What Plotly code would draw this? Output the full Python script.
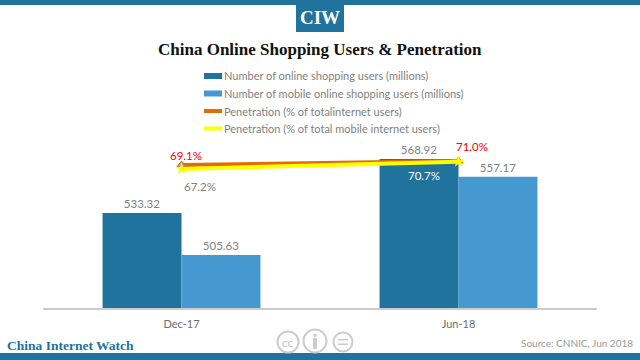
import plotly.graph_objects as go

categories = ["Dec-17", "Jun-18"]
online_users = [533.32, 568.92]
mobile_users = [505.63, 557.17]
penetration_total = [69.1, 71.0]
penetration_mobile = [67.2, 70.7]

names = ["Number of online shopping users (millions)",
         "Number of mobile online shopping users (millions)",
         "Penetration (% of totalinternet users)",
         "Penetration (% of total mobile internet users)"]

DARK = "#20739c"
LIGHT = "#4599d0"
ORANGE = "#e36c0a"
YELLOW = "#ffff00"
GRAY = "#7f7f7f"
W, H = 640, 360
L, R, T, B = 43, 597, 101, 308
FONT = "Lato"
SERIF = "Liberation Serif"

def px(x): return (x - L) / (R - L)
def py(y): return (B - y) / (B - T)

fig = go.Figure()
fig.add_bar(x=categories, y=online_users, name=names[0], marker=dict(color=DARK, line=dict(width=0)),
            text=[f"{v:.2f}" for v in online_users], textposition="outside", cliponaxis=False,
            textfont=dict(family=FONT, size=11.5, color=GRAY))
fig.add_bar(x=categories, y=mobile_users, name=names[1], marker=dict(color=LIGHT, line=dict(width=0)),
            text=[f"{v:.2f}" for v in mobile_users], textposition="outside", cliponaxis=False,
            textfont=dict(family=FONT, size=11.5, color=GRAY))
fig.add_scatter(x=categories, y=penetration_total, name=names[2], yaxis="y2", mode="lines+markers",
                line=dict(color=ORANGE, width=4),
                marker=dict(symbol="triangle-up", size=8, color="#8fa3b0", line=dict(color=ORANGE, width=1)))
fig.add_scatter(x=categories, y=penetration_mobile, name=names[3], yaxis="y2", mode="lines+markers",
                line=dict(color=YELLOW, width=4),
                marker=dict(symbol="star", size=9, color=YELLOW))

shapes, ann = [], []
def rect(x0, y0, x1, y1, color, layer="above"):
    shapes.append(dict(type="rect", xref="paper", yref="paper", x0=px(x0), x1=px(x1), y0=py(y0), y1=py(y1),
                       fillcolor=color, line=dict(width=0), layer=layer))
def text(x, y, s, size, color, family=FONT, anchor="left", bold=False):
    ann.append(dict(xref="paper", yref="paper", x=px(x), y=py(y), text=f"<b>{s}</b>" if bold else s,
                    showarrow=False, xanchor=anchor, yanchor="middle",
                    font=dict(family=family, size=size, color=color), borderpad=0))

# header and footer
rect(0, 0, 640, 5, DARK)
rect(0, 353, 640, 360, DARK)
rect(296, 0, 344, 32, DARK)
text(320, 17, "CIW", 19, "white", SERIF, "center", True)
text(320, 49, "China Online Shopping Users &amp; Penetration", 17, "#111111", SERIF, "center", True)
text(6, 345, "China Internet Watch", 13.5, DARK, SERIF, "left", True)
text(634, 343, "Source: CNNIC, Jun 2018", 10, "#999999", FONT, "right")

# legend
leg_y = [76, 93.5, 111, 128.5]
rect(204, leg_y[0] - 3, 222, leg_y[0] + 3, DARK)
rect(204, leg_y[1] - 3, 222, leg_y[1] + 3, LIGHT)
rect(204, leg_y[2] - 2, 222, leg_y[2] + 2, ORANGE)
rect(204, leg_y[3] - 2, 222, leg_y[3] + 2, YELLOW)
for n, y in zip(names, leg_y):
    text(223, y, n, 11, GRAY)

# licence icons
for cx, cy, r, label in [(288, 342, 10.5, "cc"), (315, 341, 11.5, ""), (343, 342, 9.5, "")]:
    shapes.append(dict(type="circle", xref="paper", yref="paper", x0=px(cx - r), x1=px(cx + r),
                       y0=py(cy + r), y1=py(cy - r), line=dict(color="#cccccc", width=2)))
    if label:
        text(cx, cy, label, 12, "#c4c4c4", FONT, "center")
rect(338, 339, 348, 340.5, "#cccccc")
rect(338, 343.5, 348, 345, "#cccccc")
rect(313, 338, 317, 349, "#cccccc")
shapes.append(dict(type="circle", xref="paper", yref="paper", x0=px(313.2), x1=px(316.8), y0=py(337), y1=py(333.4),
                   fillcolor="#cccccc", line=dict(width=0)))

# penetration labels
for i, v, c, xs, ys in [(0, penetration_total[0], "#ff0000", 4, 9),
                        (1, penetration_total[1], "#ff0000", 13, 15),
                        (0, penetration_mobile[0], GRAY, 18, -18),
                        (1, penetration_mobile[1], "white", -35, -14)]:
    ann.append(dict(x=categories[i], y=v, yref="y2", text=f"{v:.1f}%", showarrow=False, xshift=xs, yshift=ys,
                    font=dict(family=FONT, size=11.5, color=c)))

fig.update_layout(
    width=W, height=H, autosize=False, showlegend=False, template=None,
    paper_bgcolor="white", plot_bgcolor="white",
    margin=dict(l=L, r=W - R, t=T, b=H - B),
    barmode="group", bargap=0.43, bargroupgap=0,
    xaxis=dict(type="category", showline=True, linecolor="#cccccc", linewidth=2, ticks="", showgrid=False,
               tickfont=dict(family=FONT, size=11, color="#6e6e6e"), ticklen=0, ticklabelstandoff=5),
    yaxis=dict(range=[470.7, 470.7 + (B - T) / 1.517], visible=False, showgrid=False),
    yaxis2=dict(range=[0, 100], overlaying="y", side="right", visible=False, showgrid=False),
    shapes=shapes, annotations=ann,
)
fig.write_html("out.html", config={"displayModeBar": False},
               post_script="document.body.style.margin='0';document.body.style.overflow='hidden';")
